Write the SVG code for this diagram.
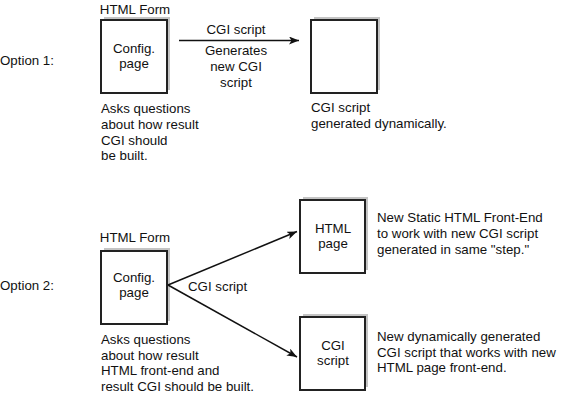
<svg xmlns="http://www.w3.org/2000/svg" width="567" height="411" viewBox="0 0 567 411">
<style>
text{font-family:"Liberation Sans",Arial,sans-serif;font-size:13.3px;fill:#111}
.c{text-anchor:middle}
.box{fill:#fff;stroke:#222;stroke-width:2}
.sh{fill:#c4c4c4}
.ln{stroke:#111;stroke-width:1.5;fill:none}
</style>
<defs>
<marker id="ah" viewBox="0 0 10 8" refX="10" refY="4" markerWidth="10" markerHeight="8" markerUnits="userSpaceOnUse" orient="auto">
<path d="M0,0 L10,4 L0,8 L2.5,4 Z" fill="#111"/>
</marker>
</defs>
<rect width="567" height="411" fill="#fff"/>
<text x="0" y="65">Option 1:</text>
<text x="0" y="290">Option 2:</text>
<g id="config1">
<text class="c" x="135" y="14">HTML Form</text>
<rect class="sh" x="104" y="17" width="66" height="73"/>
<rect class="box" x="101" y="20" width="66" height="73"/>
<text class="c" x="134" y="53">Config.</text>
<text class="c" x="134" y="68">page</text>
<text x="101" y="113">Asks questions</text>
<text x="101" y="129">about how result</text>
<text x="101" y="145">CGI should</text>
<text x="101" y="160">be built.</text>
</g>
<g id="result1">
<rect class="sh" x="314" y="17" width="66" height="73"/>
<rect class="box" x="311" y="20" width="66" height="73"/>
<text x="311" y="112">CGI script</text>
<text x="311" y="128">generated dynamically.</text>
</g>
<g id="config2">
<text class="c" x="135" y="242">HTML Form</text>
<rect class="sh" x="104" y="248" width="66" height="73"/>
<rect class="box" x="101" y="251" width="66" height="73"/>
<text class="c" x="134" y="282">Config.</text>
<text class="c" x="134" y="297">page</text>
<text x="101" y="344">Asks questions</text>
<text x="101" y="360">about how result</text>
<text x="101" y="375">HTML front-end and</text>
<text x="101" y="391">result CGI should be built.</text>
</g>
<g id="html2">
<rect class="sh" x="303" y="197" width="65" height="73"/>
<rect class="box" x="300" y="200" width="65" height="73"/>
<text class="c" x="333" y="233">HTML</text>
<text class="c" x="333" y="248">page</text>
<text x="377" y="222">New Static HTML Front-End</text>
<text x="377" y="238">to work with new CGI script</text>
<text x="377" y="254">generated in same "step."</text>
</g>
<g id="cgi2">
<rect class="sh" x="303" y="314" width="65" height="73"/>
<rect class="box" x="300" y="317" width="65" height="73"/>
<text class="c" x="333" y="350">CGI</text>
<text class="c" x="333" y="365">script</text>
<text x="377" y="341">New dynamically generated</text>
<text x="377" y="357">CGI script that works with new</text>
<text x="377" y="372">HTML page front-end.</text>
</g>
<g id="connectors">
<line class="ln" x1="179" y1="40.5" x2="299" y2="40.5" marker-end="url(#ah)"/>
<text class="c" x="236" y="34">CGI script</text>
<text class="c" x="236" y="55">Generates</text>
<text class="c" x="236" y="71">new CGI</text>
<text class="c" x="236" y="87">script</text>
<line class="ln" x1="168" y1="285" x2="297" y2="231.5" marker-end="url(#ah)"/>
<line class="ln" x1="168" y1="285" x2="297" y2="357" marker-end="url(#ah)"/>
<text x="188" y="291">CGI script</text>
</g>
</svg>
